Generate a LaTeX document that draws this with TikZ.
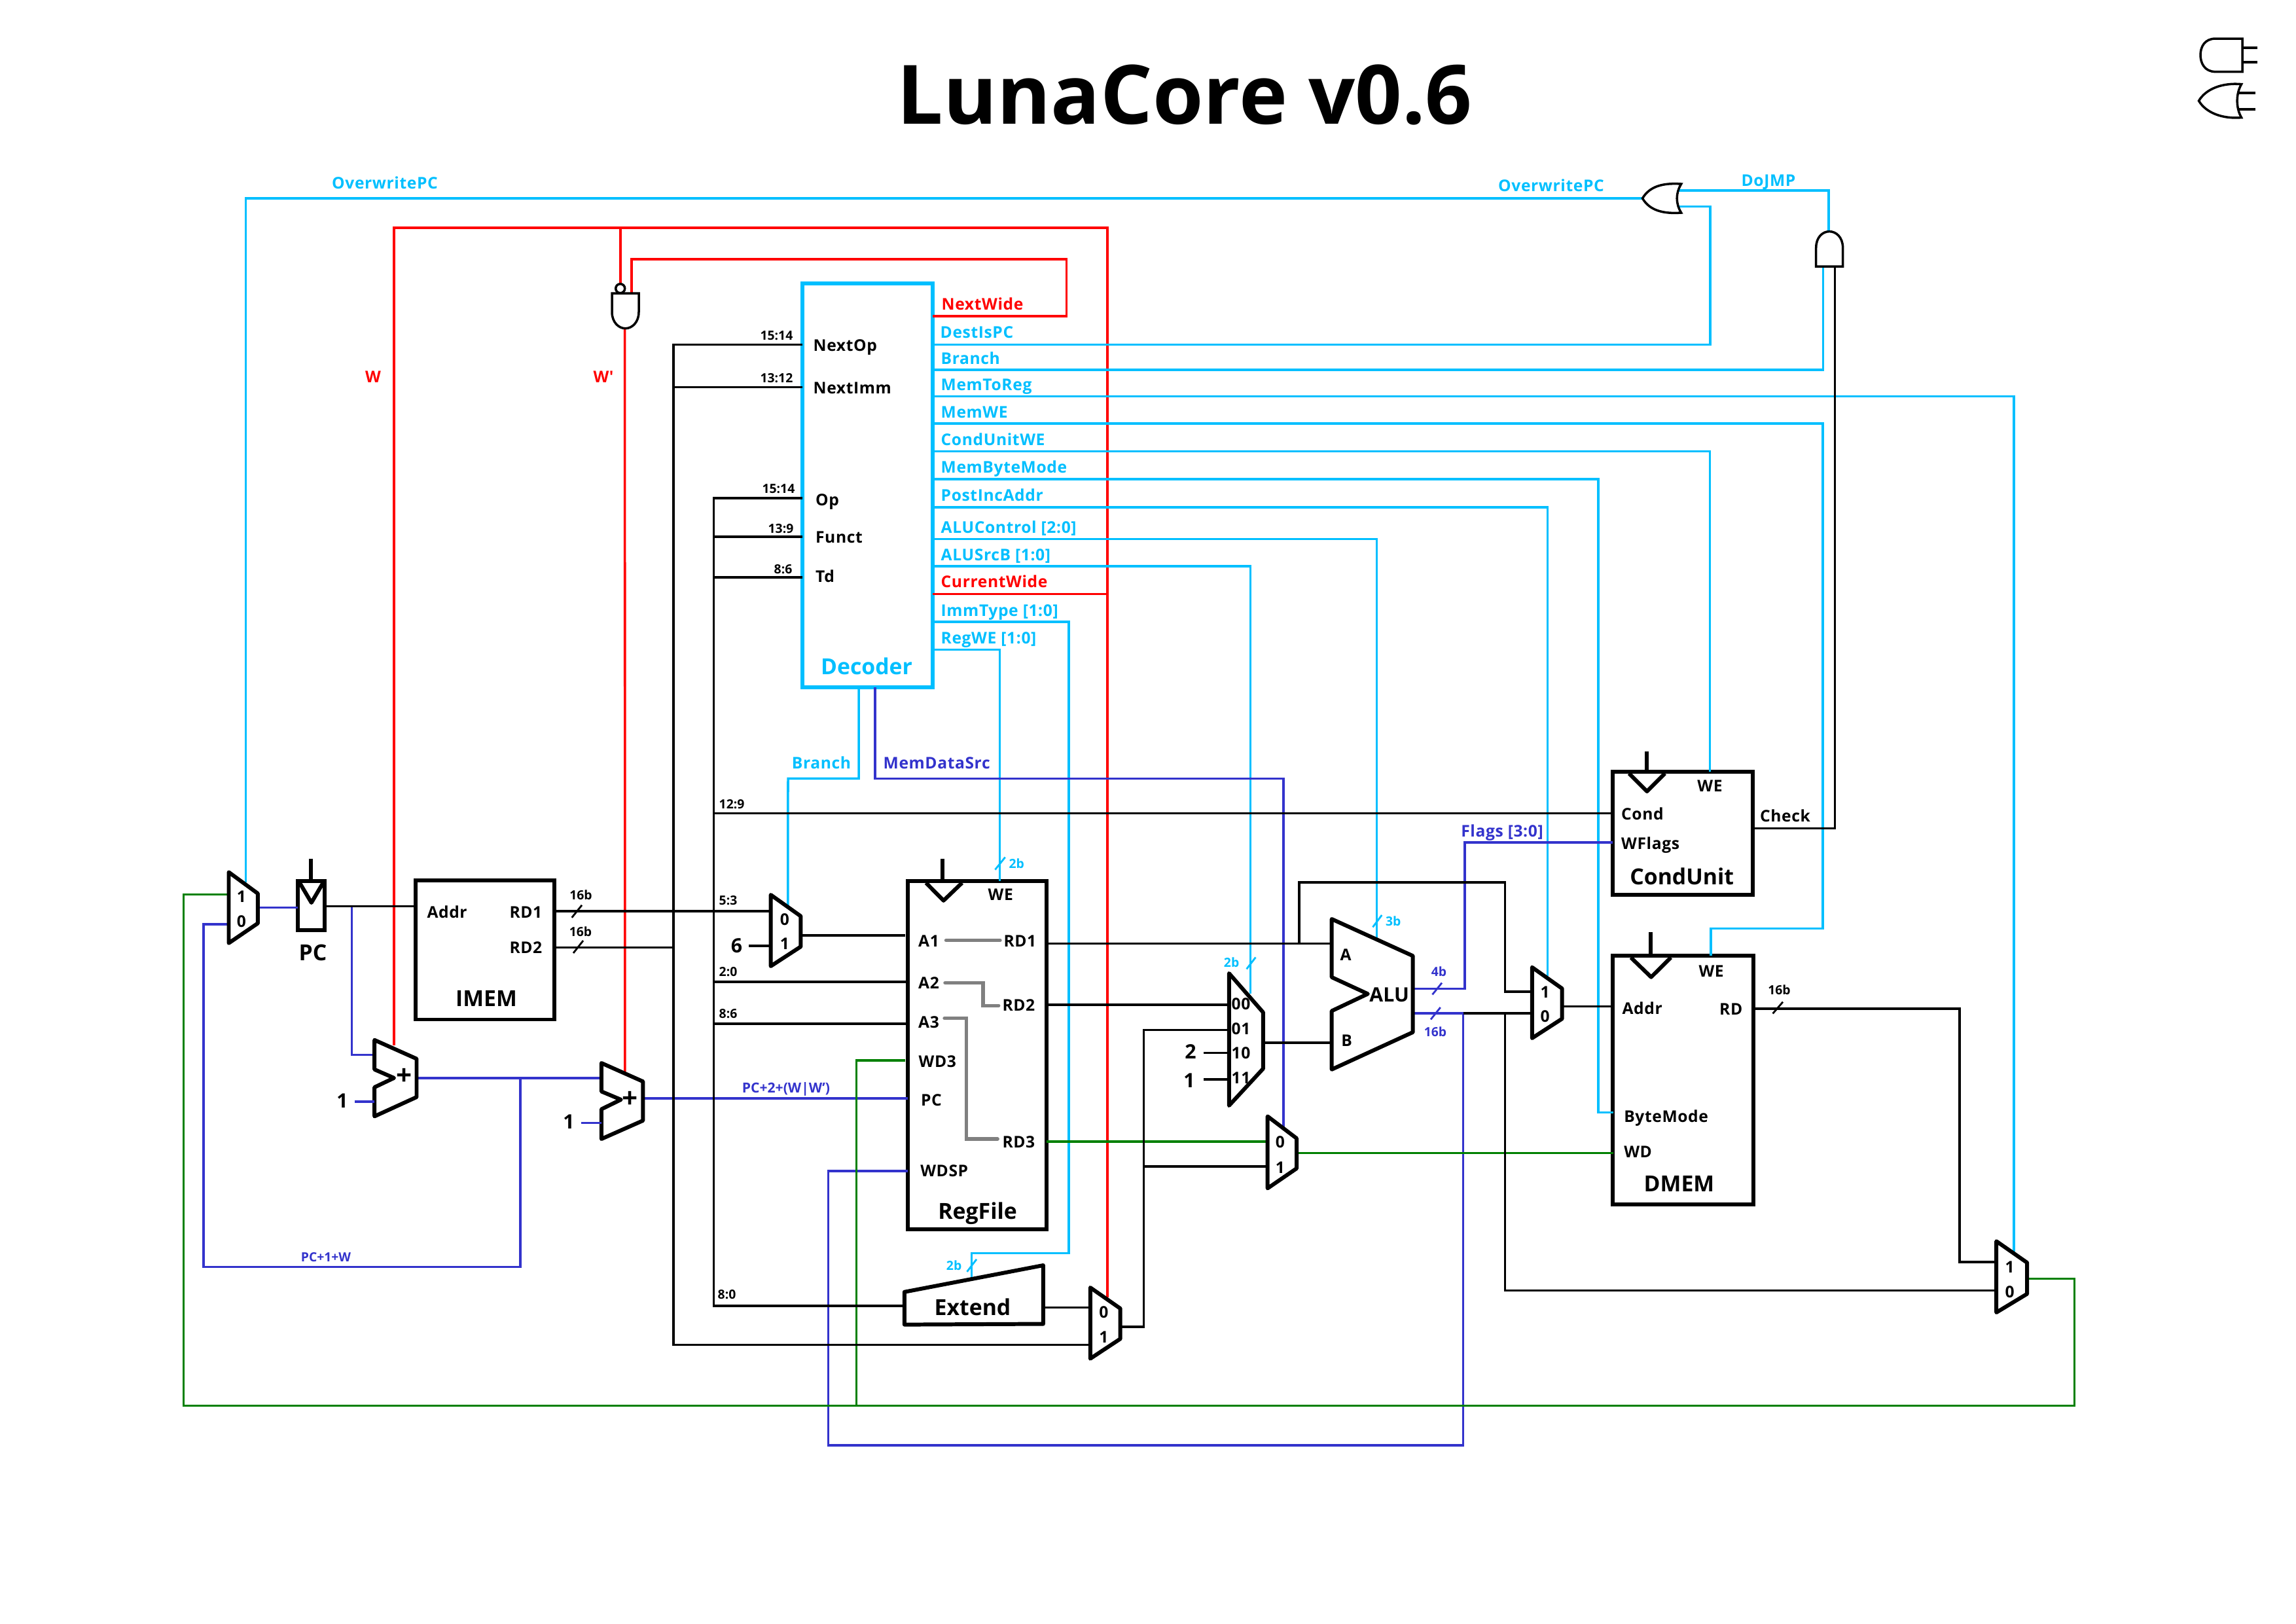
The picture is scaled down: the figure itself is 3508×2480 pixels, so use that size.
\documentclass[tikz,border=0pt]{standalone}
\usepackage{fontspec}
\setmainfont{Open Sans}
\newfontfamily\pinfont{Open Sans}[LetterSpace=2.5]
\definecolor{ctlcyan}{rgb}{0,0.75,1}
\definecolor{pcblue}{rgb}{0.2,0.2,0.8}
\definecolor{wbgreen}{rgb}{0,0.5,0}
\definecolor{widered}{rgb}{1,0,0}
\tikzset{
    wire/.style={line width=1pt, line join=miter},
    sig/.style={wire, black},
    ctl/.style={wire, ctlcyan},
    pcw/.style={wire, pcblue},
    wbk/.style={wire, wbgreen},
    wdr/.style={wire, widered},
    block/.style={line width=1.7pt, black, line join=round},
    gate/.style={line width=1pt, black, fill=white},
    route/.style={line width=1.5pt, gray, line cap=round},
    slash/.style={line width=0.8pt},
    box/.style={draw, line width=1.7pt, inner sep=0, outer sep=0},
    pin/.style={inner sep=0, text height=0.185cm, text depth=0cm, font=\pinfont\bfseries\fontsize{7}{9}\selectfont},
    pinl/.style={pin, anchor=west},
    pinr/.style={pin, anchor=east},
    tiny/.style={inner sep=0, text height=0.14cm, text depth=0cm, font=\bfseries\fontsize{5.5}{7}\selectfont},
    tinyw/.style={tiny, font=\bfseries\fontsize{6}{7}\selectfont},
    big/.style={inner sep=0, text height=0.245cm, text depth=0cm, font=\bfseries\fontsize{9.6}{13}\selectfont},
    num/.style={inner sep=0, text height=0.215cm, text depth=0cm, font=\bfseries\fontsize{8.6}{10}\selectfont},
    sum/.style={inner sep=0, font=\bfseries\fontsize{12}{13}\selectfont},
}
\begin{document}
\begin{tikzpicture}[x=0.01cm, y=-0.01cm]
    \useasboundingbox (0,0) rectangle (3508,2480);

    \node[inner sep=0, font=\bfseries\fontsize{35.6}{40}\selectfont] (title) at (1810,145) {LunaCore v0.6};

    % blocks
    \node[box, minimum width=1.985cm, minimum height=6.17cm, draw=ctlcyan] (decoder) at (1325.3,741.2) {};
    \node[box, minimum width=2.12cm, minimum height=2.12cm] (imem) at (741,1451.4) {};
    \node[box, minimum width=2.12cm, minimum height=5.317cm] (regfile) at (1493.2,1611.8) {};
    \node[box, minimum width=2.146cm, minimum height=1.888cm] (condunit) at (2571,1273) {};
    \node[box, minimum width=2.14cm, minimum height=3.794cm] (dmem) at (2571.5,1649.7) {};
    \node[box, minimum width=0.414cm, minimum height=0.753cm] (pc) at (475.7,1383.6) {};

    % decoder pins
    \coordinate (decNextWide) at (1425,483);
    \coordinate (decDest) at (1425,526.5);
    \coordinate (decBranch) at (1425,565);
    \coordinate (decMemToReg) at (1425,605.6);
    \coordinate (decMemWE) at (1425,647);
    \coordinate (decCondWE) at (1425,689.6);
    \coordinate (decByte) at (1425,732);
    \coordinate (decPostInc) at (1425,775);
    \coordinate (decALUCtl) at (1425,823.5);
    \coordinate (decSrcB) at (1425,865);
    \coordinate (decCurWide) at (1425,907.6);
    \coordinate (decImm) at (1425,950);
    \coordinate (decRegWE) at (1425,992.7);
    \coordinate (decNextOp) at (1226,526.5);
    \coordinate (decNextImm) at (1226,591.5);
    \coordinate (decOp) at (1226,761);
    \coordinate (decFunct) at (1226,820);
    \coordinate (decTd) at (1226,882);
    \coordinate (decBrDown) at (1312,1050);
    \coordinate (decMemData) at (1337,1050);

    % other pins
    \coordinate (muxpcSel) at (375.5,1347.6);
    \coordinate (muxpcA) at (349.5,1366.5);
    \coordinate (muxpcB) at (349.5,1412);
    \coordinate (muxpcOut) at (393.9,1386.6);
    \coordinate (pcIn) at (455,1386.6);
    \coordinate (pcOut) at (496.4,1384.4);
    \coordinate (imemAddr) at (635,1384.4);
    \coordinate (imemRDa) at (847,1392);
    \coordinate (imemRDb) at (847,1447.3);
    \coordinate (addaA) at (572.2,1611.6);
    \coordinate (addaB) at (572.2,1683);
    \coordinate (addaSel) at (602,1597);
    \coordinate (addaOut) at (636.5,1646.8);
    \coordinate (addbA) at (918.9,1646.8);
    \coordinate (addbB) at (918.9,1715.7);
    \coordinate (addbSel) at (954.8,1637.6);
    \coordinate (addbOut) at (982.4,1678.2);
    \coordinate (muxaSel) at (1203.8,1382.8);
    \coordinate (muxaA) at (1177.6,1392);
    \coordinate (muxaB) at (1177.6,1445);
    \coordinate (muxaOut) at (1223.4,1429);
    \coordinate (rfA1) at (1383,1429);
    \coordinate (rfA2) at (1387,1500);
    \coordinate (rfA3) at (1387,1563.9);
    \coordinate (rfWD3) at (1383,1620);
    \coordinate (rfPC) at (1387,1678.2);
    \coordinate (rfWDSP) at (1387,1789);
    \coordinate (rfWE) at (1527.3,1346);
    \coordinate (rfRD1) at (1599,1441.4);
    \coordinate (rfRD2) at (1599,1535);
    \coordinate (rfRD3) at (1599,1743.8);
    \coordinate (extIn) at (1381.9,1994.8);
    \coordinate (extCtl) at (1484.4,1952);
    \coordinate (extOut) at (1594,1997.5);
    \coordinate (muximA) at (1665.8,1997.5);
    \coordinate (muximB) at (1665.8,2054.5);
    \coordinate (muximSel) at (1691.8,1982);
    \coordinate (muximOut) at (1711.7,2026.8);
    \coordinate (muxsrcRD) at (1877.8,1535);
    \coordinate (muxsrcIm) at (1877.8,1573.6);
    \coordinate (muxsrcTwo) at (1877.8,1608.3);
    \coordinate (muxsrcOne) at (1877.8,1649);
    \coordinate (muxsrcSel) at (1910.7,1518);
    \coordinate (muxsrcOut) at (1929.8,1593);
    \coordinate (muxwdA) at (1936.7,1743.8);
    \coordinate (muxwdB) at (1936.7,1781.8);
    \coordinate (muxwdSel) at (1961.2,1721.6);
    \coordinate (muxwdOut) at (1981,1761.5);
    \coordinate (aluA) at (2034.7,1441.4);
    \coordinate (aluB) at (2034.7,1593);
    \coordinate (aluCtl) at (2103.6,1432.7);
    \coordinate (aluFlags) at (2158.7,1510.7);
    \coordinate (aluRes) at (2158.7,1548);
    \coordinate (muxadA) at (2340.8,1515);
    \coordinate (muxadB) at (2340.8,1548);
    \coordinate (muxadSel) at (2364.5,1491);
    \coordinate (muxadOut) at (2386.7,1537.6);
    \coordinate (cuCond) at (2463.8,1242.4);
    \coordinate (cuFlags) at (2463.8,1286.9);
    \coordinate (cuWE) at (2612.5,1178.7);
    \coordinate (cuCheck) at (2678.4,1265.4);
    \coordinate (dmAddr) at (2464.5,1537.6);
    \coordinate (dmByte) at (2464.5,1699.3);
    \coordinate (dmWD) at (2464.5,1761.5);
    \coordinate (dmWE) at (2613.9,1460);
    \coordinate (dmRD) at (2678.4,1541);
    \coordinate (muxoutA) at (3050.2,1927.8);
    \coordinate (muxoutB) at (3050.2,1971.5);
    \coordinate (muxoutSel) at (3077,1912);
    \coordinate (muxoutOut) at (3097.2,1953.6);
    \coordinate (orOut) at (2509.5,303);
    \coordinate (orA) at (2563,291);
    \coordinate (orB) at (2563,315.4);
    \coordinate (andOut) at (2794,353.6);
    \coordinate (andA) at (2785.6,407);
    \coordinate (andB) at (2803.3,407);
    \coordinate (nandA) at (948,434);
    \coordinate (nandB) at (965,448);
    \coordinate (nandOut) at (954.7,501.7);

    % red
    \draw[wdr] (decNextWide) -| (1629.6,396) -| (nandB);
    \draw[wdr] (addaSel) |- (1691.8,348) -- (muximSel);
    \draw[wdr] (decCurWide) -- (1691.8,907.6);
    \draw[wdr] (948,348) -- (nandA);
    \draw[wdr] (nandOut) -- (addbSel);

    % cyan
    \draw[ctl] (orOut) -| (muxpcSel);
    \draw[ctl] (orA) -| (andOut);
    \draw[ctl] (orB) -| (2613,526.5) -- (decDest);
    \draw[ctl] (decBranch) -| (andA);
    \draw[ctl] (decMemToReg) -| (muxoutSel);
    \draw[ctl] (decMemWE) -| (2785,1418.6) -| (dmWE);
    \draw[ctl] (decCondWE) -| (cuWE);
    \draw[ctl] (decByte) -| (2442,1699.3) -- (dmByte);
    \draw[ctl] (decPostInc) -| (muxadSel);
    \draw[ctl] (decALUCtl) -| (aluCtl);
    \draw[ctl] (decSrcB) -| (muxsrcSel);
    \draw[ctl] (decImm) -| (1632.9,1914.6) -| (extCtl);
    \draw[ctl] (decRegWE) -| (rfWE);
    \draw[ctl] (decBrDown) |- (1204,1189.3) -- (muxaSel);

    % blue
    \draw[pcw] (muxpcOut) -- (pcIn);
    \draw[pcw] (537.7,1384.4) |- (addaA);
    \draw[pcw] (addaOut) -- (addbA);
    \draw[pcw] (795,1646.8) |- (311.2,1935.7) |- (muxpcB);
    \draw[pcw] (addbOut) -- (rfPC);
    \draw[pcw] (aluFlags) -| (2238,1286.9) -- (cuFlags);
    \draw[pcw] (aluRes) -| (2235.5,2208) -| (1265.6,1789) -- (rfWDSP);
    \draw[pcw] (decMemData) |- (1961.2,1189.3) -- (muxwdSel);

    % green
    \draw[wbk] (muxoutOut) -| (3169.5,2147.5) -| (280.6,1366.5) -- (muxpcA);
    \draw[wbk] (1308.4,2147.5) |- (rfWD3);
    \draw[wbk] (rfRD3) -- (muxwdA);
    \draw[wbk] (muxwdOut) -- (dmWD);

    % black
    \draw[sig] (pcOut) -- (imemAddr);
    \draw[sig] (imemRDa) -- (muxaA);
    \draw[sig] (imemRDb) -- (1029,1447.3);
    \draw[sig] (decNextOp) -| (1029,2054.5) -- (muximB);
    \draw[sig] (decNextImm) -- (1029,591.5);
    \draw[sig] (decOp) -| (1090.3,1994.8) -- (extIn);
    \draw[sig] (decFunct) -- (1090.3,820);
    \draw[sig] (decTd) -- (1090.3,882);
    \draw[sig] (1090.3,1242.4) -- (cuCond);
    \draw[sig] (1090.3,1500) -- (rfA2);
    \draw[sig] (1090.3,1563.9) -- (rfA3);
    \draw[sig] (muxaOut) -- (rfA1);
    \draw[sig] (rfRD1) -- (aluA);
    \draw[sig] (1985,1441.4) |- (2299.5,1348) |- (muxadA);
    \draw[sig] (rfRD2) -- (muxsrcRD);
    \draw[sig] (muxsrcOut) -- (aluB);
    \draw[sig] (extOut) -- (muximA);
    \draw[sig] (muximOut) -| (1747.7,1573.6) -- (muxsrcIm);
    \draw[sig] (1747.7,1781.8) -- (muxwdB);
    \draw[sig] (2235.5,1548) -- (muxadB);
    \draw[sig] (2299.5,1548) |- (muxoutB);
    \draw[sig] (muxadOut) -- (dmAddr);
    \draw[sig] (dmRD) -| (2994,1927.8) -- (muxoutA);
    \draw[sig] (cuCheck) -| (andB);

    % muxes and adders
    \draw[block] (349.5,1332.4) -- (393.9,1365) -- (393.9,1410.5) -- (349.5,1440.8) -- cycle;
    \draw[block] (1177.6,1367) -- (1223.4,1399.6) -- (1223.4,1446.2) -- (1177.6,1476) -- cycle;
    \draw[block] (1665.8,1967) -- (1711.7,1999) -- (1711.7,2045.3) -- (1665.8,2075.6) -- cycle;
    \draw[block] (1877.8,1486.9) -- (1929.8,1546.5) -- (1929.8,1632.7) -- (1877.8,1689) -- cycle;
    \draw[block] (1936.7,1705.4) -- (1981,1739) -- (1981,1785) -- (1936.7,1815.4) -- cycle;
    \draw[block] (2340.8,1477.7) -- (2386.7,1510.2) -- (2386.7,1556.3) -- (2340.8,1586) -- cycle;
    \draw[block] (3050.2,1896.2) -- (3097.2,1929) -- (3097.2,1976.6) -- (3050.2,2005) -- cycle;
    \draw[block] (572.2,1588.8) -- (636.5,1617.5) -- (636.5,1676) -- (572.2,1705.4) -- (572.2,1661) -- (602,1646.8) -- (572.2,1633.8) -- cycle;
    \draw[block] (918.9,1624) -- (982.4,1652.2) -- (982.4,1711.9) -- (918.9,1740) -- (918.9,1694.5) -- (948.7,1679.9) -- (918.9,1667.4) -- cycle;
    \draw[block] (2034.7,1404) -- (2158.7,1460.3) -- (2158.7,1576.9) -- (2034.7,1633.8) -- (2034.7,1544.4) -- (2089.8,1518.3) -- (2034.7,1492.9) -- cycle;
    \draw[block] (1381.9,1973.7) -- (1593.9,1933) -- (1593.9,2022.5) -- (1381.9,2023.6) -- cycle;

    % clocks
    \draw[block] (475,1312) -- (475,1346);
    \draw[block] (457.5,1348) -- (475.8,1379) -- (494,1348);
    \draw[block] (1440,1312) -- (1440,1346);
    \draw[block] (1414.8,1348.7) -- (1441.6,1375.8) -- (1469.9,1348.7);
    \draw[block] (2516.4,1147.6) -- (2516.4,1178.7);
    \draw[block] (2489,1181.6) -- (2516.4,1209) -- (2543.7,1181.6);
    \draw[block] (2522,1424.4) -- (2522,1460);
    \draw[block] (2491.8,1462.8) -- (2522.7,1492.7) -- (2552.9,1462.8);

    % gates
    \draw[gate] (935,448) -- (976,448) -- (976,476.7) .. controls (976,492) and (966,501.7) .. (955.5,501.7) .. controls (945,501.7) and (935,492) .. (935,476.7) -- cycle;
    \draw[gate] (947.7,440.7) circle (7);
    \draw[gate] (2774.7,407) -- (2815.6,407) -- (2815.6,378.6) .. controls (2815.6,362) and (2805,353.6) .. (2795,353.6) .. controls (2785,353.6) and (2774.7,362) .. (2774.7,378.6) -- cycle;
    \draw[gate] (2509.5,303) .. controls (2520,285) and (2540,279) .. (2568.7,281) .. controls (2560,295) and (2560,311) .. (2568.7,325) .. controls (2540,327) and (2520,321) .. cycle;
    \draw[gate] (3426,59) -- (3385,59) .. controls (3368,59) and (3362,72) .. (3362,84) .. controls (3362,96) and (3368,109.6) .. (3385,109.6) -- (3426,109.6) -- cycle;
    \draw[gate] (3426,73) -- (3448.7,73);
    \draw[gate] (3426,95) -- (3448.7,95);
    \draw[gate] (3359.5,154) .. controls (3370,136) and (3395,126) .. (3424.6,128.6) .. controls (3416,143) and (3416,165) .. (3424.6,179.6) .. controls (3395,182) and (3370,172) .. cycle;
    \draw[gate] (3420,141.8) -- (3446,141.8);
    \draw[gate] (3420,167) -- (3446,167);

    % grey routes inside regfile
    \draw[route] (1445.4,1436.5) -- (1528,1436.5);
    \draw[route] (1443.9,1501.5) -- (1502,1501.5) -- (1502,1536.2) -- (1525.8,1536.2);
    \draw[route] (1443,1555.7) -- (1476.8,1555.7) -- (1476.8,1740) -- (1524.2,1740);

    % bus slashes
    \draw[slash] (873.7,1401.8) -- (889,1382.8);
    \draw[slash] (876,1456) -- (891,1437);
    \draw[slash] (2708.6,1548.4) -- (2724,1530.6);
    \draw[slash, ctlcyan] (1520.4,1328.6) -- (1535.7,1309.6);
    \draw[slash, ctlcyan] (1904.6,1480.4) -- (1918.4,1462.5);
    \draw[slash, ctlcyan] (2097.4,1416.4) -- (2111.2,1398);
    \draw[slash, ctlcyan] (1477.5,1942.8) -- (1492,1923.8);
    \draw[slash, pcblue] (2188.5,1519.4) -- (2203,1501.5);
    \draw[slash, pcblue] (2186,1557.4) -- (2200.8,1539);

    % decoder texts
    \node[pinl] (nextop) at (1242,527) {NextOp};
    \node[pinl] (nextimm) at (1242,592) {NextImm};
    \node[pinl] (op) at (1245.4,763) {Op};
    \node[pinl] (funct) at (1245.4,820) {Funct};
    \node[pinl] (td) at (1245.4,880) {Td};
    \node[big, ctlcyan] (decodertxt) at (1324,1018) {Decoder};
    \node[pinl, widered] (nextwide) at (1438,464) {NextWide};
    \node[pinl, ctlcyan] (destispc) at (1436,507.5) {DestIsPC};
    \node[pinl, ctlcyan] (branch) at (1437,547) {Branch};
    \node[pinl, ctlcyan] (memtoreg) at (1437,587) {MemToReg};
    \node[pinl, ctlcyan] (memwe) at (1437,629) {MemWE};
    \node[pinl, ctlcyan] (condunitwe) at (1437,671) {CondUnitWE};
    \node[pinl, ctlcyan] (membytemode) at (1437,713.5) {MemByteMode};
    \node[pinl, ctlcyan] (postincaddr) at (1437,756) {PostIncAddr};
    \node[pinl, ctlcyan] (alucontrol) at (1437,805) {ALUControl [2:0]};
    \node[pinl, ctlcyan] (alusrcb) at (1437,847) {ALUSrcB [1:0]};
    \node[pinl, widered] (currentwide) at (1437,888.6) {CurrentWide};
    \node[pinl, ctlcyan] (immtype) at (1437,932) {ImmType [1:0]};
    \node[pinl, ctlcyan] (regwe) at (1437,974) {RegWE [1:0]};
    \node[tiny, anchor=east] (bitsa) at (1212,512) {15:14};
    \node[tiny, anchor=east] (bitsb) at (1212,577.4) {13:12};
    \node[tiny, anchor=east] (bitsc) at (1215,746.6) {15:14};
    \node[tiny, anchor=east] (bitsd) at (1213,807) {13:9};
    \node[tiny, anchor=east] (bitse) at (1211,869) {8:6};

    % wire labels
    \node[pin, ctlcyan] (owpca) at (588,279.6) {OverwritePC};
    \node[pin, ctlcyan] (owpcb) at (2370,283.6) {OverwritePC};
    \node[pin, ctlcyan] (dojmp) at (2702,275) {DoJMP};
    \node[pin, widered] (wlab) at (570,575) {W};
    \node[pin, widered] (wplab) at (922,575) {W'};
    \node[pin, ctlcyan] (branchb) at (1255,1165.5) {Branch};
    \node[pinl, pcblue] (memdatasrc) at (1349,1165.5) {MemDataSrc};
    \node[pin, pcblue] (flags) at (2295,1269.5) {Flags [3:0]};
    \node[tinyw, pcblue] (pcnext) at (1201,1662) {PC+2+(W|W')};
    \node[tiny, pcblue] (pcone) at (498,1920) {PC+1+W};
    \node[tiny, anchor=west] (bitsf) at (1098,1228) {12:9};
    \node[tiny, anchor=west] (bitsg) at (1098,1375.8) {5:3};
    \node[tiny, anchor=west] (bitsh) at (1098,1484.7) {2:0};
    \node[tiny, anchor=west] (bitsi) at (1098,1548) {8:6};
    \node[tiny, anchor=west] (bitsj) at (1096,1977) {8:0};
    \node[tiny] (widea) at (887.5,1367.6) {16b};
    \node[tiny] (wideb) at (887,1423) {16b};
    \node[tiny] (widec) at (2718.4,1512.8) {16b};
    \node[tiny, ctlcyan] (wdd) at (1553.3,1319.4) {2b};
    \node[tiny, ctlcyan] (wde) at (1881.6,1470) {2b};
    \node[tiny, ctlcyan] (wdf) at (2128.8,1407.7) {3b};
    \node[tiny, ctlcyan] (wdg) at (1457.6,1933) {2b};
    \node[tiny, pcblue] (wdh) at (2198.4,1484.2) {4b};
    \node[tiny, pcblue] (wdi) at (2193,1576.3) {16b};

    % imem, pc
    \node[big] (pctxt) at (478,1455) {PC};
    \node[pinl] (imaddr) at (651.8,1393) {Addr};
    \node[pinr] (imrda) at (829,1393) {RD1};
    \node[pinr] (imrdb) at (829,1447) {RD2};
    \node[big] (imemtxt) at (743,1525.4) {IMEM};

    % regfile
    \node[pin] (rfwetxt) at (1528.8,1366) {WE};
    \node[pinl] (rfaa) at (1402.5,1437.6) {A1};
    \node[pinl] (rfab) at (1402.5,1501.5) {A2};
    \node[pinl] (rfac) at (1402.5,1561) {A3};
    \node[pinl] (rfwd) at (1403,1620.8) {WD3};
    \node[pinl] (rfpc) at (1406.4,1680) {PC};
    \node[pinl] (rfsp) at (1405.6,1787.8) {WDSP};
    \node[pinr] (rfra) at (1584,1437.6) {RD1};
    \node[pinr] (rfrb) at (1582,1535) {RD2};
    \node[pinr] (rfrc) at (1582,1744.4) {RD3};
    \node[big] (rftxt) at (1493.6,1850.6) {RegFile};
    \node[big] (exttxt) at (1486,1997) {Extend};

    % condunit, dmem
    \node[pin] (cuwetxt) at (2612.5,1200) {WE};
    \node[pinl] (cucond) at (2476.4,1243.6) {Cond};
    \node[pinl] (cuwf) at (2476.4,1288.3) {WFlags};
    \node[pinl] (cucheck) at (2688.3,1246.4) {Check};
    \node[big] (cutxt) at (2569.7,1339.4) {CondUnit};
    \node[pin] (dmwetxt) at (2614.6,1483) {WE};
    \node[pinl] (dmaddr) at (2477.8,1540.3) {Addr};
    \node[pinr] (dmrd) at (2663,1541.5) {RD};
    \node[pinl] (dmbyte) at (2480.6,1705) {ByteMode};
    \node[pinl] (dmwd) at (2480.6,1759.6) {WD};
    \node[big] (dmtxt) at (2565.5,1808.4) {DMEM};

    % alu
    \node[pin] (alua) at (2056,1458) {A};
    \node[pin] (alub) at (2057.6,1589.3) {B};
    \node[num] (alutxt) at (2122.7,1520) {ALU};

    % mux digits
    \node[pin] (mpa) at (369,1369) {1};
    \node[pin] (mpb) at (369,1407) {0};
    \node[pin] (maa) at (1199,1404.5) {0};
    \node[pin] (mab) at (1199,1441) {1};
    \node[pin] (mia) at (1686.5,2004.6) {0};
    \node[pin] (mib) at (1686.5,2042.5) {1};
    \node[pin] (msa) at (1896,1533) {00};
    \node[pin] (msb) at (1896,1571) {01};
    \node[pin] (msc) at (1896,1608.3) {10};
    \node[pin] (msd) at (1896,1646.3) {11};
    \node[pin] (mwa) at (1956,1744.4) {0};
    \node[pin] (mwb) at (1956,1782.9) {1};
    \node[pin] (mda) at (2360.7,1515.6) {1};
    \node[pin] (mdb) at (2360.7,1552.5) {0};
    \node[pin] (moa) at (3070.6,1935.2) {1};
    \node[pin] (mob) at (3070.6,1973.7) {0};
    \node[sum] (plusa) at (617.3,1644.6) {+};
    \node[sum] (plusb) at (963,1680) {+};

    % constants
    \node[num] (onea) at (523,1681.5) {1};
    \node[num] (oneb) at (869,1714) {1};
    \node[num] (six) at (1125.5,1445) {6};
    \node[num] (two) at (1818.9,1606.7) {2};
    \node[num] (onec) at (1817,1650.6) {1};
    \draw[pcw] (542,1683) -- (addaB);
    \draw[pcw] (887.5,1715.7) -- (addbB);
    \draw[sig] (1144,1445) -- (muxaB);
    \draw[sig] (1838.8,1608.3) -- (muxsrcTwo);
    \draw[sig] (1838.8,1649) -- (muxsrcOne);
\end{tikzpicture}
\end{document}
